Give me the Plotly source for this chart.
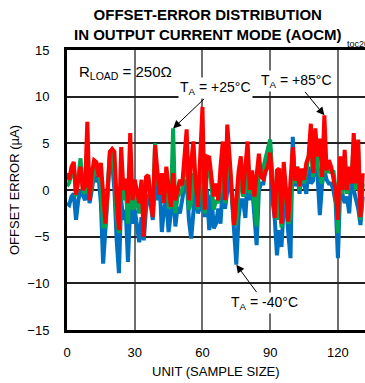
import plotly.graph_objects as go

units = list(range(0, 132))

ta_m40 = [-1.4, -1.6, -0.7, -0.4, -3.2, -1.1, 0, -0.7, -1.1, 0.7,
          -1.4, 0, 1.6, 1.1, 1.4, -1.4, -7.9, -4.3, 0, 3.6,
          2.9, 0, -5.4, -8.9, -1.1, -3.2, -2.1, -7.7, -1.8, -3.6,
          -2.1, -4.3, -5.6, -2.9, -5.4, -2.1, -0.5, -1.4, -3.2, 0.7,
          -1.1, 1.0, -4.5, -2.0, -1.1, -4.5, -2.5, 0.5, -3.9, -1.8,
          -2.5, -1.1, 0.5, 1.1, -3.2, -5.2, -2.9, 0.4, -2.5, -1.8,
          0.5, -2.9, 0, -4.3, -0.5, -4.1, -3.6, -2.0, -3.6, 0.7,
          -2.0, -0.4, 1.8, -0.7, -4.3, -8.0, -2.9, -1.1, -1.1, -3.0,
          1.1, -1.1, 0.4, -2.5, -5.9, 0, 0.7, 0.7, 2.5, 4.0,
          4.5, -1.1, -3.0, -7.0, -4.3, -6.1, -1.8, -1.1, -4.6, -7.3,
          5.7, 0.4, 1.8, -0.4, 1.8, 0.4, -0.4, 2.5, 0.7, 1.0,
          4.3, 1.4, -2.7, 0.7, 2.1, 1.1, 0.7, 0.7, 0, -1.4,
          -7.3, 0, -0.4, -1.4, -0.7, -2.5, 1.4, 0, -1.1, -2.0,
          -3.75, -0.7]

ta_p25 = [0.4, 0.8, 1.8, 2.5, -0.7, 1.1, 3.4, 0, -0.4, 4.3,
          -0.7, 0.4, 2.5, 1.8, 1.8, 0.7, -3.9, -3.9, 0, 4.1,
          4.3, 2.1, -2.9, -4.6, 1.1, -1.1, 0.4, -3.6, 2.5, -2.1,
          0, -1.4, -2.5, 0.7, -4.6, 1.1, 1.4, -0.7, -2.5, 5.0,
          0.7, 0.5, 0, -1.1, 1.4, -1.8, -1.8, 6.6, -2.5, -0.7,
          -0.4, 0, 2.5, 3.6, -2.1, -1.4, 1.8, 0.7, -2.1, 1.8,
          4.3, -2.5, 2.1, 3.0, 0.7, -2.1, -1.1, -1.4, 0.4, 3.6,
          -1.4, 3.6, 2.9, -0.4, -3.6, -3.6, 0, 1.4, -0.7, 0,
          3.6, -0.4, 1.4, -1.4, -3.9, 2.5, 1.4, 2.5, 3.4, 4.6,
          5.4, 1.4, -2.0, -3.2, 1.0, -4.0, 1.8, -0.4, -3.6, -3.0,
          4.3, 0.7, 2.5, 0, 2.1, 0.7, 2.1, 3.6, 5.0, 1.4,
          5.7, 2.5, 1.4, 0.7, 5.0, 1.8, 2.5, 1.8, 2.1, 0,
          -4.6, 2.5, -0.4, 2.9, -0.4, 1.1, 1.1, 5.0, 0, 4.3,
          -3.2, 0.7]

ta_p85 = [1.8, 1.1, 2.5, 3.0, -0.5, 1.4, 2.5, 0, 0.4, 7.3,
          -1.1, 1.8, 3.2, 3.0, 1.4, 2.9, -1.1, -3.6, 0, 4.1,
          4.4, 4.1, -1.1, -4.3, 4.6, 0, 1.2, -1.4, 6.1, -1.1,
          1.1, 0, -1.4, 1.1, -5.0, 1.4, 1.6, -1.0, -2.9, 4.8,
          2.1, -0.5, 1.8, -1.4, 2.5, 0.5, -1.8, 1.8, -1.1, 0,
          1.1, 0.5, 3.6, 6.5, -1.1, 3.0, 5.2, 0.7, -1.8, 5.0,
          8.9, -2.1, 3.6, 3.5, 1.5, -0.7, 0.7, -1.1, 2.5, 5.2,
          -1.1, 7.0, 3.6, 0, -3.75, -1.1, 2.0, 3.6, -0.4, 2.5,
          5.2, 0, 2.1, -0.7, 1.4, 3.9, 1.4, 1.2, 2.0, 2.5,
          4.0, 1.0, -3.0, 2.1, 2.3, -3.6, 3.0, 0, -3.4, 1.0,
          4.6, 1.0, 2.5, 0.4, 2.3, 1.1, 2.9, 3.6, 7.1, 1.8,
          6.6, 3.6, 5.5, 1.4, 8.0, 2.1, 3.2, 2.5, 1.0, 0,
          -3.2, 3.6, 0, 4.3, 0, 2.5, 0.7, 6.1, 0.7, 5.4,
          -2.9, 1.8]

x_ticks = [0, 30, 60, 90, 120]
y_ticks = [-15, -10, -5, 0, 5, 10, 15]

FONT = "Liberation Sans, Arial, sans-serif"

fig = go.Figure()
for vals, col in [(ta_m40, "#0070C0"), (ta_p25, "#00A651"), (ta_p85, "#FF0000")]:
    fig.add_trace(go.Scatter(x=units, y=vals, mode="lines",
                             line=dict(color=col, width=4), showlegend=False,
                             hoverinfo="skip"))

fig.update_layout(
    width=365, height=383,
    margin=dict(l=67, r=0, t=50, b=53),
    paper_bgcolor="white", plot_bgcolor="white",
    font=dict(family=FONT, color="black", size=13),
    xaxis=dict(range=[0, 132], tickvals=x_ticks, showgrid=True,
               gridcolor="#6f6f6f", gridwidth=2, zeroline=False,
               showline=True, linecolor="black", linewidth=3, mirror=True,
               ticks="", ticklabelstandoff=8, tickfont=dict(size=13)),
    yaxis=dict(range=[-15, 15], tickvals=y_ticks, showgrid=True,
               gridcolor="#222222", gridwidth=1.5, zeroline=False,
               showline=True, linecolor="black", linewidth=3,
               ticks="", ticklabelstandoff=12, tickfont=dict(size=13)),
)

annos = [
    dict(text="<b>OFFSET-ERROR DISTRIBUTION<br>IN OUTPUT CURRENT MODE (AOCM)</b>",
         xref="paper", yref="paper", x=0.47, y=1, yshift=5, xanchor="center",
         yanchor="bottom", showarrow=False, font=dict(size=15)),
    dict(text="toc20", xref="paper", yref="paper", x=1, y=1, xanchor="right",
         yanchor="bottom", xshift=6, yshift=-1, showarrow=False, font=dict(size=9)),
    dict(text="UNIT (SAMPLE SIZE)", xref="paper", yref="paper", x=0.5, y=0,
         yshift=-32, xanchor="center", yanchor="top", showarrow=False,
         font=dict(size=13)),
    dict(text="OFFSET ERROR (µA)", xref="paper", yref="paper", x=0, y=0.5,
         xshift=-53, xanchor="center", yanchor="middle", textangle=-90,
         showarrow=False, font=dict(size=13)),
    dict(text="R<sub>LOAD</sub> = 250Ω", xref="x", yref="y", x=26, y=12.6,
         showarrow=False, font=dict(size=15)),
    dict(text="T<sub>A</sub> = +25°C", xref="x", yref="y", x=47, y=6.6,
         ax=42, ay=-40, showarrow=True, arrowhead=2, arrowsize=1.6,
         arrowwidth=1, arrowcolor="black", bgcolor="white",
         font=dict(size=14)),
    dict(text="T<sub>A</sub> = +85°C", xref="x", yref="y", x=114, y=8.0,
         ax=-28, ay=-34, showarrow=True, arrowhead=2, arrowsize=1.6,
         arrowwidth=1, arrowcolor="black", bgcolor="white",
         font=dict(size=14)),
    dict(text="T<sub>A</sub> = -40°C", xref="x", yref="y", x=75, y=-8.0,
         ax=28, ay=38, showarrow=True, arrowhead=2, arrowsize=1.6,
         arrowwidth=1, arrowcolor="black", bgcolor="white",
         font=dict(size=14)),
]
fig.update_layout(annotations=annos)

fig.write_html("out.html")
